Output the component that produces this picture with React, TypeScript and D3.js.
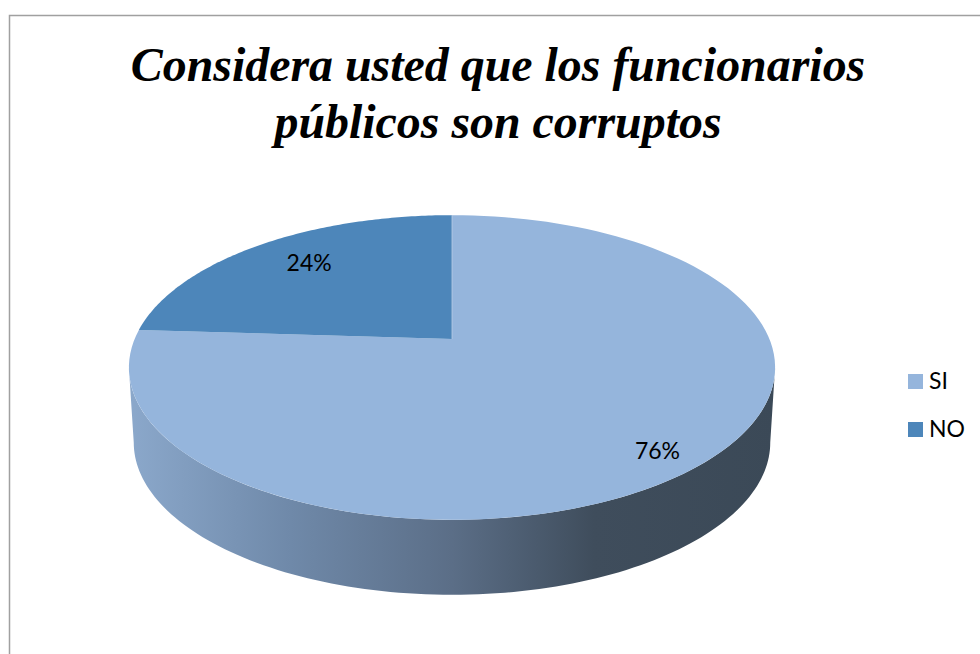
import React, { useEffect, useRef } from 'react';
import * as d3 from 'd3';

const categories = ['SI', 'NO'];
const values = [76, 24];
const titleLines = ['Considera usted que los funcionarios', 'públicos son corruptos'];

const colors = ['#95b5dc', '#4d86ba'];
const labelOffsets = [[24, 30], [5, 5]];

const width = 980;
const height = 654;

// pie disc seen in perspective: the vertex sits above the middle of the ellipse
const cx = 452;
const vertexY = 339;
const projA = 317.4;
const projB = 147;
const projK = 0.187;

const project = (r: number, angle: number): [number, number] => {
  const u = r * Math.sin(angle);
  const v = -r * Math.cos(angle);
  const d = 1 - projK * v;
  return [cx + (projA * u) / d, vertexY + (projB * v) / d];
};

const arcPoints = (start: number, end: number) =>
  d3.range(0, 121).map((i) => project(1, start + ((end - start) * i) / 120));

const App: React.FC = () => {
  const svgRef = useRef<SVGSVGElement>(null);

  useEffect(() => {
    if (!svgRef.current) return;
    const svg = d3.select(svgRef.current);
    svg.selectAll('*').remove();

    const line = d3.line();
    const pie = d3.pie<number>().sort(null);
    const slices = pie(values);

    const defs = svg.append('defs');
    const grad = defs.append('linearGradient')
      .attr('id', 'wall')
      .attr('gradientUnits', 'userSpaceOnUse')
      .attr('x1', 129).attr('x2', 775).attr('y1', 0).attr('y2', 0);
    [
      [0, '#8ba8cb'],
      [0.25, '#6f89a9'],
      [0.5, '#5b6e87'],
      [0.72, '#3f4d5c'],
      [1, '#3b4957'],
    ].forEach(([o, c]) => grad.append('stop').attr('offset', o as number).attr('stop-color', c as string));

    svg.append('path')
      .attr('d', `M${width},15.5H9.5V${height}`)
      .attr('fill', 'none')
      .attr('stroke', '#a0a0a0')
      .attr('stroke-width', 1.5);

    const title = svg.append('text')
      .attr('text-anchor', 'middle')
      .attr('font-family', '"Liberation Serif", serif')
      .attr('font-weight', 'bold')
      .attr('font-style', 'italic')
      .attr('font-size', 47.9)
      .attr('fill', '#000');
    titleLines.forEach((t, i) => {
      title.append('tspan').attr('x', 498).attr('y', 81 + i * 57).text(t);
    });

    // side wall: front half of the rim, then a slightly narrower copy lower down
    const wallDepth = 75;
    const narrow = 0.985;
    const tilt = Math.asin(projK);
    const front = arcPoints(Math.PI / 2 + tilt, (3 * Math.PI) / 2 - tilt);
    const lower = front
      .map(([x, y]): [number, number] => [cx + (x - cx) * narrow, y + wallDepth])
      .reverse();
    svg.append('path')
      .attr('d', `${line([...front, ...lower])}Z`)
      .attr('fill', 'url(#wall)');

    slices.forEach((s, i) => {
      const pts: [number, number][] = [project(0, 0), ...arcPoints(s.startAngle, s.endAngle)];
      svg.append('path')
        .attr('d', `${line(pts)}Z`)
        .attr('fill', colors[i]);
    });

    svg.append('path')
      .attr('d', `${line([project(0, 0), project(1, 0)])}`)
      .attr('stroke', '#b9cde6')
      .attr('stroke-width', 0.8);

    slices.forEach((s, i) => {
      const [x, y] = project(0.75, (s.startAngle + s.endAngle) / 2);
      svg.append('text')
        .attr('x', x + labelOffsets[i][0])
        .attr('y', y + labelOffsets[i][1])
        .attr('text-anchor', 'middle')
        .attr('font-family', 'Lato, sans-serif')
        .attr('font-size', 23)
        .attr('fill', '#000')
        .text(`${s.data}%`);
    });

    categories.forEach((c, i) => {
      const row = svg.append('g').attr('transform', `translate(908,${374 + i * 48})`);
      row.append('rect').attr('width', 15).attr('height', 15).attr('fill', colors[i]);
      row.append('text')
        .attr('x', 21)
        .attr('y', 15)
        .attr('font-family', 'Lato, sans-serif')
        .attr('font-size', 23)
        .attr('fill', '#000')
        .text(c);
    });
  }, []);

  return (
    <svg
      ref={svgRef}
      width={width}
      height={height}
      style={{ position: 'absolute', left: 0, top: 0, display: 'block' }}
    />
  );
};

export default App;
